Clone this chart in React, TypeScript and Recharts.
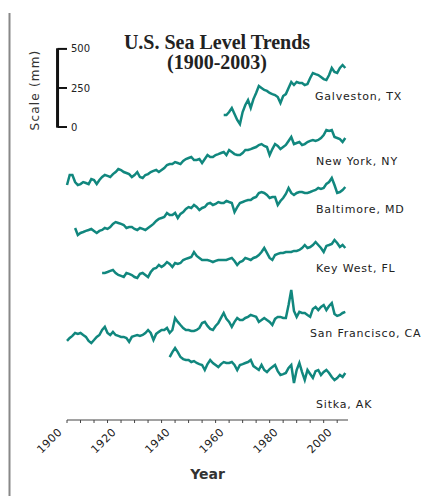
import React from 'react'
import { LineChart, Line, XAxis, YAxis, ReferenceLine } from 'recharts'

// relative sea level, mm, one value per year from each station's first year
const galvestonMm = [
  0, 0, 19, 45, 6, -32, -58, 19, 64, 96,
  45, 102, 141, 186, 173, 160, 154, 141, 134, 128,
  115, 77, 122, 134, 173, 211, 192, 211, 205, 205,
  192, 198, 237, 269, 262, 256, 243, 230, 224, 256,
  301, 275, 269, 301, 320, 301,
]
const newYorkMm = [
  0, 64, 64, 19, 0, 6, 19, 13, 6, 38,
  32, 6, 32, 51, 64, 58, 51, 70, 83, 102,
  96, 83, 77, 70, 51, 64, 83, 51, 45, 64,
  70, 83, 90, 96, 83, 96, 109, 128, 134, 134,
  147, 141, 134, 154, 166, 173, 179, 160, 160, 166,
  141, 166, 192, 179, 179, 192, 198, 205, 211, 192,
  224, 211, 198, 192, 192, 205, 224, 224, 230, 237,
  243, 256, 262, 250, 243, 192, 230, 262, 250, 230,
  243, 256, 282, 307, 262, 269, 275, 256, 262, 275,
  282, 288, 282, 288, 301, 320, 352, 346, 352, 307,
  301, 294, 275, 301,
]
const baltimoreMm = [
  0, -45, -32, -26, -19, -13, -6, -19, -32, -19,
  -13, 0, -6, 6, 26, 38, 32, 26, 19, 0,
  6, 6, -6, -13, 0, -6, -13, 0, 13, 26,
  45, 58, 64, 70, 96, 83, 83, 96, 64, 90,
  102, 122, 134, 128, 147, 134, 115, 128, 134, 154,
  160, 147, 154, 166, 160, 160, 173, 166, 160, 102,
  134, 160, 166, 173, 179, 179, 192, 198, 224, 230,
  224, 211, 192, 198, 198, 147, 173, 192, 218, 256,
  224, 211, 224, 230, 230, 224, 224, 230, 237, 243,
  256, 250, 256, 282, 294, 320, 275, 224, 230, 243,
  262,
]
const keyWestMm = [
  0, 0, 6, 13, 19, 0, -13, -19, -26, 0,
  -6, -13, -26, -32, -6, 0, -13, -26, 6, 26,
  32, 51, 38, 51, 70, 58, 38, 64, 58, 64,
  83, 90, 96, 102, 134, 109, 96, 83, 83, 83,
  77, 70, 77, 83, 83, 83, 83, 90, 96, 77,
  51, 70, 77, 96, 90, 83, 96, 102, 115, 134,
  160, 128, 96, 83, 115, 122, 128, 128, 134, 134,
  134, 141, 141, 147, 160, 179, 160, 166, 179, 198,
  179, 160, 134, 173, 179, 186, 211, 192, 166, 179,
  160,
]
const sanFranciscoMm = [
  0, 19, 32, 51, 45, 51, 38, 26, 0, -13,
  6, 26, 38, 70, 90, 51, 38, 58, 38, 32,
  26, 26, 19, -6, 26, 32, 38, 32, 38, 51,
  70, 51, 6, 45, 58, 70, 70, 83, 51, 70,
  147, 122, 102, 83, 70, 70, 64, 64, 70, 83,
  115, 122, 96, 77, 70, 96, 115, 147, 179, 141,
  122, 90, 122, 147, 134, 134, 147, 154, 166, 160,
  154, 122, 134, 147, 134, 122, 102, 141, 154, 154,
  147, 147, 230, 326, 192, 154, 186, 179, 179, 166,
  154, 205, 218, 198, 218, 230, 198, 224, 243, 173,
  160, 166, 179, 186,
]
const sitkaMm = [
  0, 32, 58, 32, 0, -13, -19, -19, -32, -26,
  -38, -45, -51, -83, -45, -19, -38, -51, -64, -45,
  -32, -38, -38, -32, -51, -83, -51, -45, -38, -32,
  -19, -58, -70, -83, -51, -83, -96, -77, -64, -51,
  -90, -115, -109, -102, -70, -51, -166, -83, -38, -96,
  -147, -83, -109, -134, -90, -83, -115, -96, -83, -102,
  -128, -147, -134, -115, -128, -102,
]

const stationKeys = ['galveston', 'newYork', 'baltimore', 'keyWest', 'sanFrancisco', 'sitka']
const stationNames = ['Galveston, TX', 'New York, NY', 'Baltimore, MD', 'Key West, FL', 'San Francisco, CA', 'Sitka, AK']
const stationStart = [1958, 1900, 1903, 1913, 1900, 1938]
const stationValues = [galvestonMm, newYorkMm, baltimoreMm, keyWestMm, sanFranciscoMm, sitkaMm]
// vertical stacking of the stations, mm
const stationOffset = [1952, 1504, 1229, 941, 506, 403]

const firstYear = 1900
const lastYear = 2003
const yearTicks = [1900, 1905, 1910, 1915, 1920, 1925, 1930, 1935, 1940, 1945, 1950,
  1955, 1960, 1965, 1970, 1975, 1980, 1985, 1990, 1995, 2000]
const scaleTicks = [0, 250, 500]
const scaleBase = 1875

const rows: Record<string, number>[] = []
for (let yr = firstYear; yr <= lastYear; yr++) {
  const row: Record<string, number> = { year: yr }
  stationKeys.forEach((k, i) => {
    const idx = yr - stationStart[i]
    if (idx >= 0 && idx < stationValues[i].length) row[k] = stationValues[i][idx] + stationOffset[i]
  })
  rows.push(row)
}

const TEAL = '#11877e'
const SANS = '"DejaVu Sans", sans-serif'

const YearTick = (props: any) => {
  const { x, y, payload } = props
  if (payload.value % 20 !== 0) return null
  return (
    <g transform={`translate(${x - 7},${y + 5}) rotate(-45)`}>
      <text x={0} y={0} dy="0.35em" textAnchor="end" fontSize={11} fontFamily={SANS}
        fill="#222" letterSpacing={0.5}>{payload.value}</text>
    </g>
  )
}

// label positions next to each station's line
const labelPos = [[315, 100], [316, 165], [316, 213], [316, 272], [310, 337], [316, 408]]

export default function App() {
  return (
    <div style={{ position: 'absolute', left: 0, top: 0, width: 429, height: 496, background: '#fff' }}>
      <LineChart width={429} height={496} data={rows} margin={{ top: 45, right: 81, bottom: 16, left: 67 }}>
        <XAxis dataKey="year" type="number" domain={[1900, 2004]} ticks={yearTicks} interval={0}
          tick={<YearTick />} tickSize={3} height={60} stroke="#444"
          label={{ value: 'Year', position: 'insideBottom', offset: 1, fontSize: 14, fontWeight: 'bold', fontFamily: SANS, fill: '#333' }} />
        <YAxis hide domain={[0, 2400]} />
        <ReferenceLine ifOverflow="visible" stroke="#111" strokeWidth={3}
          segment={[{ x: 1896.5, y: scaleBase - 4 }, { x: 1896.5, y: scaleBase + 504 }]} />
        {scaleTicks.map((t) => (
          <ReferenceLine key={t} ifOverflow="visible" stroke="#111" strokeWidth={2}
            segment={[{ x: 1896.5, y: scaleBase + t }, { x: 1900, y: scaleBase + t }]}
            label={{ value: String(t), position: 'right', offset: 4, fontSize: 10, fontFamily: SANS, fill: '#222' }} />
        ))}
        {stationKeys.map((k) => (
          <Line key={k} dataKey={k} type="linear" stroke={TEAL} strokeWidth={2.5} dot={false}
            isAnimationActive={false} />
        ))}
      </LineChart>
      <svg width={429} height={496} style={{ position: 'absolute', left: 0, top: 0, pointerEvents: 'none' }}>
        <line x1={9.5} y1={13} x2={9.5} y2={496} stroke="#888" strokeWidth={2} />
        <text x={217} y={49} textAnchor="middle" fontFamily='"Liberation Serif", serif' fontWeight="bold"
          fontSize={20} fill="#222">U.S. Sea Level Trends</text>
        <text x={217} y={69} textAnchor="middle" fontFamily='"Liberation Serif", serif' fontWeight="bold"
          fontSize={20} fill="#222">(1900-2003)</text>
        <text transform="translate(39,90) rotate(-90)" textAnchor="middle" fontFamily={SANS} fontSize={12}
          letterSpacing={1.2} fill="#333">Scale (mm)</text>
        {stationNames.map((n, i) => (
          <text key={n} x={labelPos[i][0]} y={labelPos[i][1]} fontFamily={SANS} fontSize={11}
            letterSpacing={0.8} fill="#222">{n}</text>
        ))}
      </svg>
    </div>
  )
}
